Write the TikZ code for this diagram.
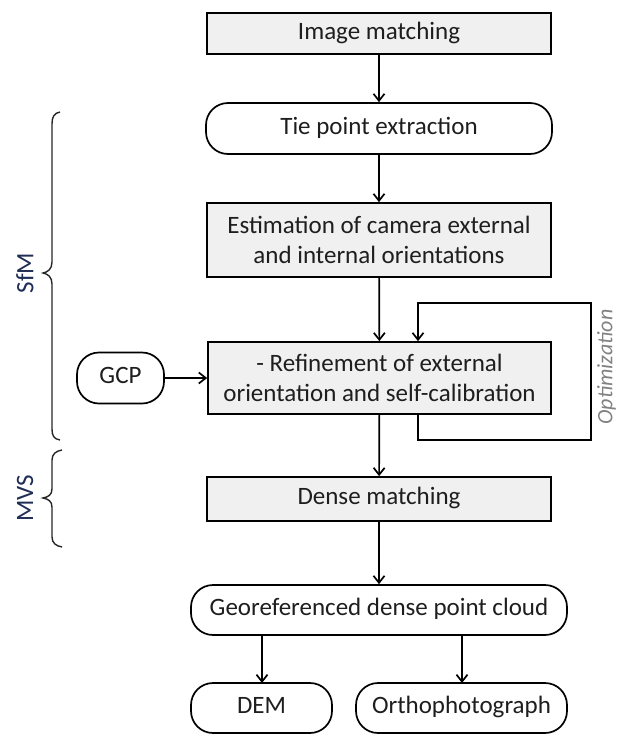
\documentclass[tikz,border=0pt]{standalone}
\usepackage{fontspec}
\setmainfont{Carlito}
\usetikzlibrary{arrows.meta}
\definecolor{boxfill}{RGB}{240,240,240}
\definecolor{txt}{RGB}{30,30,30}
\definecolor{optgray}{RGB}{130,130,130}
\definecolor{navy}{RGB}{31,45,85}
\begin{document}
\begin{tikzpicture}[x=1pt,y=-1pt,
  base/.style={draw=black, line width=1.7pt, text=txt, inner sep=0pt, align=center,
    font=\fontsize{25}{30}\selectfont},
  oneline/.style={text height=17pt, text depth=6pt},
  procbox/.style={base, fill=boxfill},
  termbox/.style={base, fill=white, rounded corners=22pt},
  arr/.style={line width=1.7pt, -{Straight Barb[length=7pt,width=11pt,line width=1.7pt]}},
  brace/.style={line width=1.4pt, draw=black!85},
  sidelabel/.style={font=\fontsize{25}{30}\selectfont, text=navy, rotate=90}
]
\useasboundingbox (0,0) rectangle (617,734);

\node[procbox, oneline, minimum width=344pt, minimum height=41pt] (im) at (379,33.5) {Image matching};
\node[termbox, oneline, minimum width=346pt, minimum height=51pt] (tie) at (379,128.5) {Tie point extraction};
\node[procbox, minimum width=344pt, minimum height=74pt] (est) at (379,240) {Estimation of camera external\\and internal orientations};
\node[procbox, minimum width=343pt, minimum height=72pt] (ref) at (379.5,378) {- Refinement of external\\orientation and self-calibration};
\node[termbox, oneline, minimum width=87pt, minimum height=51pt] (gcp) at (120.5,378) {GCP};
\node[procbox, oneline, minimum width=344pt, minimum height=44pt] (dense) at (379,499) {Dense matching};
\node[termbox, oneline, minimum width=376pt, minimum height=50pt] (geo) at (379,610) {Georeferenced dense point cloud};
\node[termbox, oneline, minimum width=141pt, minimum height=50pt] (dem) at (261.5,708) {DEM};
\node[termbox, oneline, minimum width=211pt, minimum height=50pt] (ortho) at (461.5,708) {Orthophotograph};

\draw[arr] (im) -- (tie);
\draw[arr] (tie) -- (est);
\draw[arr] (est) -- (ref);
\draw[arr] (gcp) -- (ref);
\draw[arr] (ref) -- (dense);
\draw[arr] (dense) -- (geo);
\coordinate (dt) at (262,683);
\draw[arr] (geo.south -| dt) -- (dt);
\coordinate (ot) at (462,683);
\draw[arr] (geo.south -| ot) -- (ot);

\coordinate (l1) at (418,440);
\coordinate (l2) at (591,440);
\coordinate (l3) at (591,303);
\coordinate (l4) at (418,303);
\draw[arr] (ref.south -| l1) -- (l1) -- (l2) -- (l3) -- (l4) -- (ref.north -| l4);

\node[font=\fontsize{22}{26}\selectfont\itshape, text=optgray, rotate=90, anchor=north, inner sep=0pt] (opt) at (597,367) {Optimization};

% braces
\draw[brace] (60,112) .. controls (54,113) and (52,117) .. (52,124)
  -- (52,262) .. controls (52,269) and (48,272) .. (43,273)
  .. controls (48,274) and (52,277) .. (52,284)
  -- (52,429) .. controls (52,436) and (54,439) .. (60,440);
\draw[brace] (62,450) .. controls (56,451) and (52,454) .. (52,460)
  -- (52,489) .. controls (52,495) and (48,497) .. (43,498)
  .. controls (48,499) and (52,501) .. (52,507)
  -- (52,537) .. controls (52,543) and (56,546) .. (62,547);
\node[sidelabel] (sfm) at (25,273) {SfM};
\node[sidelabel] (mvs) at (25,498) {MVS};
\end{tikzpicture}
\end{document}
